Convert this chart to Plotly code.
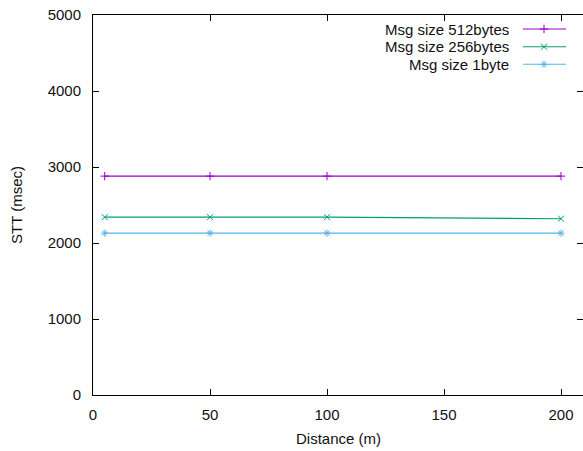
import plotly.graph_objects as go

distance = [5, 50, 100, 200]
msg512 = [2880, 2880, 2880, 2880]
msg256 = [2340, 2340, 2340, 2320]
msg1 = [2130, 2130, 2130, 2130]

names = ["Msg size 512bytes", "Msg size 256bytes", "Msg size 1byte"]
colors = ["#9400d3", "#009e73", "#56b4e9"]
symbols = ["cross-thin", "x-thin", "asterisk"]
series = [msg512, msg256, msg1]

W, H = 583, 451
L, R, T, B = 93, 0, 15, 56
pw = W - L - R
ph = H - T - B

def px(x):
    return (x - L) / pw

def py(y):
    return (H - B - y) / ph

font = dict(family="Liberation Sans, Arial, sans-serif", size=15, color="#111")

fig = go.Figure()
for name, ys, c, s in zip(names, series, colors, symbols):
    fig.add_trace(go.Scatter(
        x=distance, y=ys, mode="lines+markers", name=name,
        line=dict(color=c, width=1.1),
        marker=dict(symbol=s, size=6, color=c, line=dict(color=c, width=1)),
        showlegend=False, cliponaxis=False,
    ))

# custom gnuplot-style legend (text then sample)
rows_y = [29, 46.7, 64.3]
ann = []
shapes = []
for name, c, s, ry in zip(names, colors, symbols, rows_y):
    ann.append(dict(x=px(511), y=py(ry), xref="paper", yref="paper", text=name,
                    showarrow=False, xanchor="right", yanchor="middle", font=font))
    shapes.append(dict(type="line", xref="paper", yref="paper", x0=px(523), x1=px(566),
                       y0=py(ry), y1=py(ry), line=dict(color=c, width=1.1)))
    fig.add_trace(go.Scatter(
        x=[px(544)], y=[py(ry)], xaxis="x2", yaxis="y2", mode="markers",
        marker=dict(symbol=s, size=6, color=c, line=dict(color=c, width=1)),
        showlegend=False, hoverinfo="skip", cliponaxis=False,
    ))

ann.append(dict(x=0.5, y=py(438), xref="paper", yref="paper", text="Distance (m)",
                showarrow=False, xanchor="center", yanchor="middle", font=font))
ann.append(dict(x=px(16), y=0.5, xref="paper", yref="paper", text="STT (msec)",
                showarrow=False, xanchor="center", yanchor="middle", textangle=-90, font=font))

axis_common = dict(showgrid=False, zeroline=False, showline=True, linecolor="#000",
                   linewidth=1, mirror="allticks", ticks="inside", ticklen=6,
                   tickcolor="#000", tickwidth=1, tickfont=font)

fig.update_layout(
    width=W, height=H,
    margin=dict(l=L, r=R, t=T, b=B, autoexpand=False),
    paper_bgcolor="white", plot_bgcolor="white",
    xaxis=dict(range=[0, (W - L) / 2.34], tickmode="linear", tick0=0, dtick=50,
               ticklabelstandoff=6, **axis_common),
    yaxis=dict(range=[0, 5000], tickmode="linear", tick0=0, dtick=1000,
               ticklabelstandoff=8, **axis_common),
    xaxis2=dict(range=[0, 1], overlaying="x", visible=False, fixedrange=True),
    yaxis2=dict(range=[0, 1], overlaying="y", visible=False, fixedrange=True),
    annotations=ann, shapes=shapes,
    font=font, showlegend=False,
)

fig.write_html("out.html", config={"displayModeBar": False},
               post_script="document.body.style.margin='0';")
